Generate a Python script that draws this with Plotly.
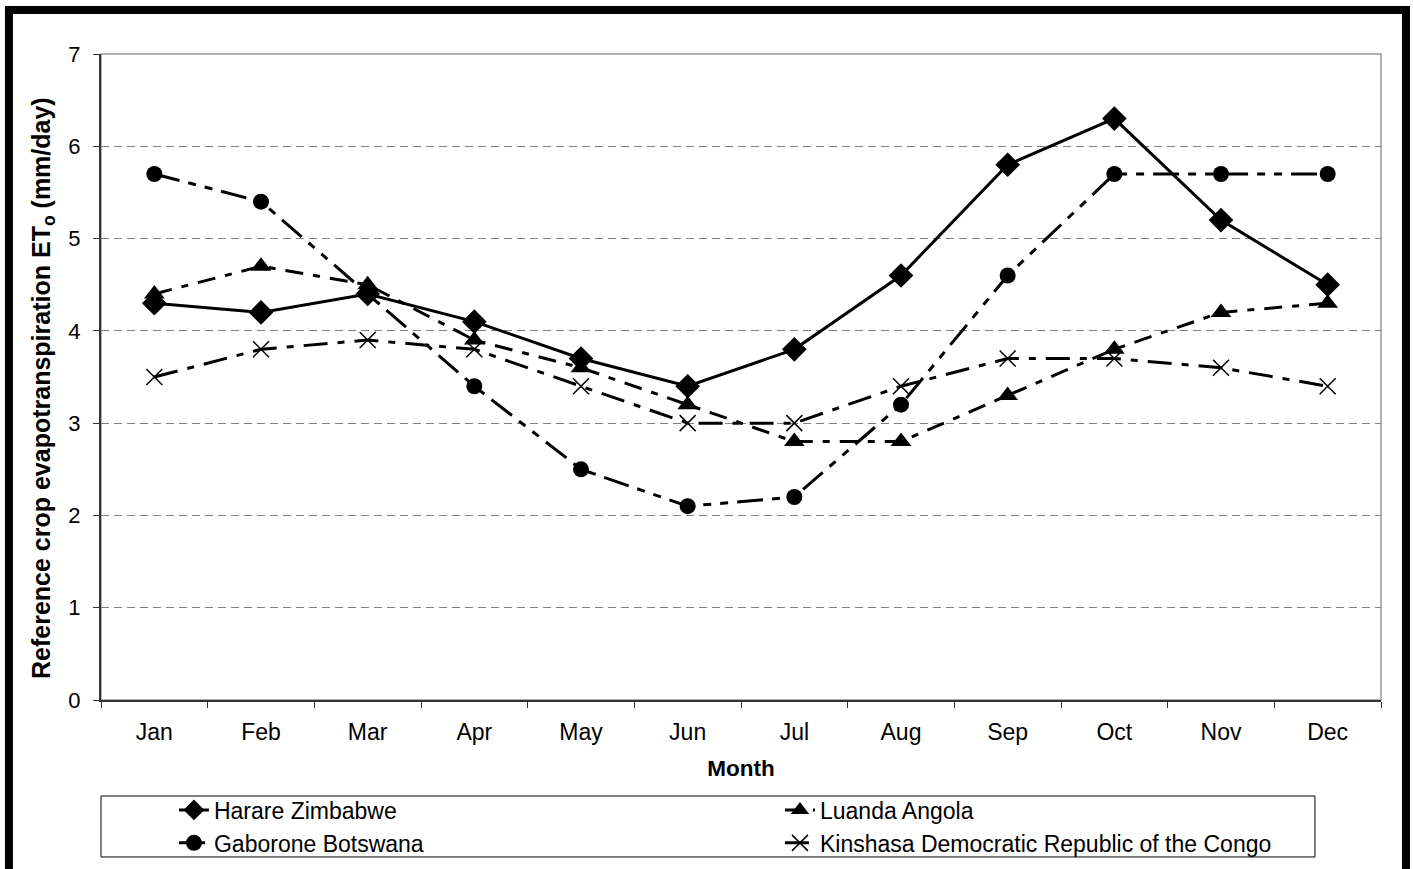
import plotly.graph_objects as go

# Monthly reference crop evapotranspiration ETo (mm/day)
months = ["Jan", "Feb", "Mar", "Apr", "May", "Jun",
          "Jul", "Aug", "Sep", "Oct", "Nov", "Dec"]
harare = [4.3, 4.2, 4.4, 4.1, 3.7, 3.4, 3.8, 4.6, 5.8, 6.3, 5.2, 4.5]
luanda = [4.4, 4.7, 4.5, 3.9, 3.6, 3.2, 2.8, 2.8, 3.3, 3.8, 4.2, 4.3]
gaborone = [5.7, 5.4, 4.4, 3.4, 2.5, 2.1, 2.2, 3.2, 4.6, 5.7, 5.7, 5.7]
kinshasa = [3.5, 3.8, 3.9, 3.8, 3.4, 3.0, 3.0, 3.4, 3.7, 3.7, 3.6, 3.4]
y_ticks = [0, 1, 2, 3, 4, 5, 6, 7]

FONT = "Liberation Sans, Arial, sans-serif"

series = [
    ("Harare Zimbabwe", harare, "solid",
     dict(symbol="diamond", size=19, color="black")),
    ("Luanda Angola", luanda, "18px,10px,7px,10px",
     dict(symbol="triangle-up", size=18, color="black")),
    ("Gaborone Botswana", gaborone, "26px,9px,8px,9px,8px,9px",
     dict(symbol="circle", size=16, color="black")),
    ("Kinshasa Democratic Republic of the Congo", kinshasa, "24px,10px,7px,10px",
     dict(symbol="x-thin-open", size=16, color="black",
          line=dict(color="black", width=1.5))),
]

fig = go.Figure()
for name, vals, dash, marker in series:
    fig.add_trace(go.Scatter(
        x=months, y=vals, name=name, mode="lines+markers",
        line=dict(color="black", width=3, dash=dash),
        marker=marker,
    ))

# plot-area border (light grey), outer black frame, legend box
fig.add_shape(type="rect", xref="paper", yref="paper", x0=0, x1=1, y0=0, y1=1,
              line=dict(color="#999999", width=1.5), layer="below")
fig.add_shape(type="rect", xref="paper", yref="paper",
              x0=-0.0719, x1=1.0195, y0=-0.29, y1=1.068,
              line=dict(color="black", width=8))
fig.add_shape(type="rect", xref="paper", yref="paper",
              x0=0, x1=0.9484, y0=-0.2430, y1=-0.1486,
              line=dict(color="black", width=1))

# vertical axis title
fig.add_annotation(
    text="<b>Reference crop evapotranspiration ET<sub>o</sub> (mm/day)</b>",
    xref="paper", yref="paper", x=-0.0453, y=0.483,
    xanchor="center", yanchor="middle", textangle=-90, showarrow=False,
    font=dict(family=FONT, size=25, color="black"),
)

fig.update_layout(
    width=1413, height=869,
    margin=dict(l=101, r=32, t=54, b=169, autoexpand=False),
    paper_bgcolor="white", plot_bgcolor="white",
    font=dict(family=FONT, size=22, color="black"),
    showlegend=True,
    legend=dict(
        orientation="h", x=0.057, xanchor="left", y=-0.137, yanchor="top",
        entrywidth=561, entrywidthmode="pixels",
        bgcolor="rgba(0,0,0,0)", borderwidth=0,
        font=dict(family=FONT, size=23, color="black"),
        tracegroupgap=0,
    ),
    xaxis=dict(
        type="category", range=[-0.5, 11.5], automargin=False,
        showline=True, linecolor="#333333", linewidth=2,
        ticks="outside", tickson="boundaries", ticklen=6, tickcolor="#333333",
        showgrid=False, ticklabelstandoff=10,
        title=dict(text="<b>Month</b>", standoff=17,
                   font=dict(family=FONT, size=22.5)),
        tickfont=dict(family=FONT, size=23),
    ),
    yaxis=dict(
        range=[0, 7], tickvals=y_ticks, automargin=False,
        showline=True, linecolor="#333333", linewidth=2,
        ticks="outside", ticklen=6, tickcolor="#333333",
        showgrid=True, gridcolor="#808080", gridwidth=1, griddash="8px,5px",
        zeroline=False, ticklabelstandoff=8,
        tickfont=dict(family=FONT, size=22),
    ),
)

fig.write_html("out.html")
